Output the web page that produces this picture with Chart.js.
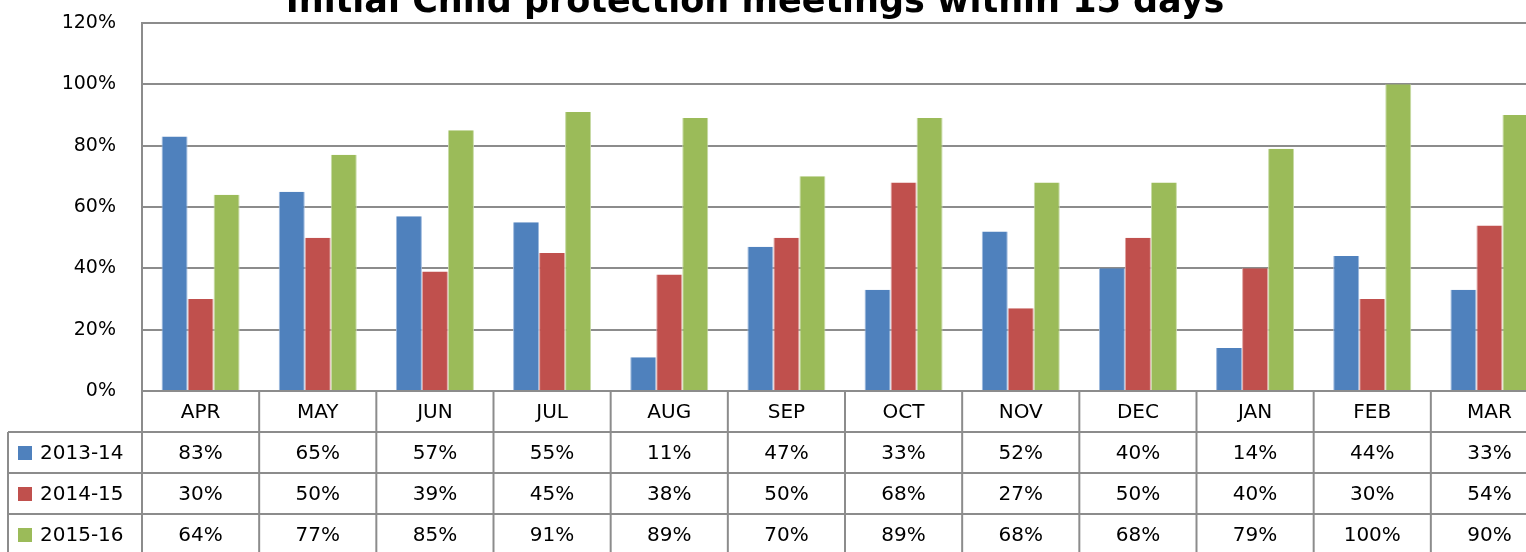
<!DOCTYPE html>
<html>
<head>
<meta charset="utf-8">
<script src="https://cdn.jsdelivr.net/npm/chart.js@4/dist/chart.umd.min.js"></script>
<style>
  html, body { margin: 0; padding: 0; background: #fff; overflow: hidden; }
  #wrap { width: 1548px; height: 552px; position: relative; }
</style>
</head>
<body>
<div id="wrap"><canvas id="c"></canvas></div>
<script>
const titleText = 'Initial Child protection meetings within 15 days';
const months = ['APR','MAY','JUN','JUL','AUG','SEP','OCT','NOV','DEC','JAN','FEB','MAR'];
const seriesNames = ['2013-14','2014-15','2015-16'];
const s2013 = [83,65,57,55,11,47,33,52,40,14,44,33];
const s2014 = [30,50,39,45,38,50,68,27,50,40,30,54];
const s2015 = [64,77,85,91,89,70,89,68,68,79,100,90];
const colors = ['#4F81BD','#C0504D','#9BBB59'];
const edgeColors = ['#9DB9DE','#E0A3A1','#C8DBA6'];
const yTicks = [0,20,40,60,80,100,120];

const LINE = '#8C8C8C';
const FONT = '"DejaVu Sans", sans-serif';

const tablePlugin = {
  id: 'dataTable',
  afterDraw(chart) {
    const ctx = chart.ctx;
    const x = chart.scales.x;
    const area = chart.chartArea;
    const seriesData = [s2013, s2014, s2015];
    const rowTop = area.bottom;
    const rowH = 41;
    const tableLeft = 8;
    const H = chart.height;
    const W = chart.width;
    const step = x.getPixelForValue(1) - x.getPixelForValue(0);
    ctx.save();
    ctx.strokeStyle = LINE;
    ctx.lineWidth = 2;
    for (let r = 1; r <= 3; r++) {
      const y = rowTop + r * rowH;
      ctx.beginPath(); ctx.moveTo(tableLeft, y); ctx.lineTo(W, y); ctx.stroke();
    }
    ctx.beginPath(); ctx.moveTo(tableLeft, rowTop + rowH); ctx.lineTo(tableLeft, H); ctx.stroke();
    for (let i = 0; i <= months.length; i++) {
      const xx = x.getPixelForValue(i) - step / 2;
      ctx.beginPath(); ctx.moveTo(xx, rowTop); ctx.lineTo(xx, H); ctx.stroke();
    }
    ctx.fillStyle = '#000';
    ctx.font = '20px ' + FONT;
    ctx.textAlign = 'center';
    ctx.textBaseline = 'middle';
    months.forEach((m, i) => {
      ctx.fillText(m, x.getPixelForValue(i), rowTop + rowH / 2 + 1);
    });
    seriesData.forEach((arr, r) => {
      const cy = rowTop + (r + 1) * rowH + rowH / 2 + 1;
      arr.forEach((v, i) => {
        ctx.fillText(v + '%', x.getPixelForValue(i), cy);
      });
      ctx.fillStyle = colors[r];
      ctx.fillRect(18, cy - 7.5, 14, 14);
      ctx.fillStyle = '#000';
      ctx.textAlign = 'left';
      ctx.fillText(seriesNames[r], 40, cy);
      ctx.textAlign = 'center';
    });
    ctx.font = 'bold 35px ' + FONT;
    ctx.textAlign = 'center';
    ctx.textBaseline = 'alphabetic';
    ctx.fillText(titleText, 755, 12);
    ctx.restore();
  }
};

new Chart(document.getElementById('c'), {
  type: 'bar',
  data: {
    labels: months,
    datasets: [
      { label: seriesNames[0], data: s2013, backgroundColor: colors[0], borderColor: edgeColors[0], borderWidth: {left:1,right:1,top:0,bottom:0} },
      { label: seriesNames[1], data: s2014, backgroundColor: colors[1], borderColor: edgeColors[1], borderWidth: {left:1,right:1,top:0,bottom:0} },
      { label: seriesNames[2], data: s2015, backgroundColor: colors[2], borderColor: edgeColors[2], borderWidth: {left:1,right:1,top:0,bottom:0} }
    ]
  },
  options: {
    responsive: true,
    maintainAspectRatio: false,
    animation: false,
    layout: { padding: { top: 23, left: 0, right: 0, bottom: 0 } },
    plugins: { legend: { display: false }, tooltip: { enabled: false }, title: { display: false } },
    datasets: { bar: { categoryPercentage: 0.666, barPercentage: 1.0 } },
    scales: {
      x: {
        grid: { display: false },
        border: { display: false },
        ticks: { display: false },
        afterFit(scale) { scale.height = 161; scale.paddingLeft = 0; scale.paddingRight = 0; }
      },
      y: {
        min: 0, max: 120,
        afterBuildTicks(scale) { scale.ticks = yTicks.map(v => ({ value: v })); },
        ticks: {
          padding: 26,
          color: '#000',
          font: { family: FONT, size: 19 },
          callback: (v) => v + '%'
        },
        grid: { color: LINE, lineWidth: 2, drawTicks: false },
        border: { display: true, color: LINE, width: 2 },
        afterFit(scale) { scale.width = 142; scale.paddingTop = 0; scale.paddingBottom = 0; }
      }
    }
  },
  plugins: [tablePlugin]
});
</script>
</body>
</html>
